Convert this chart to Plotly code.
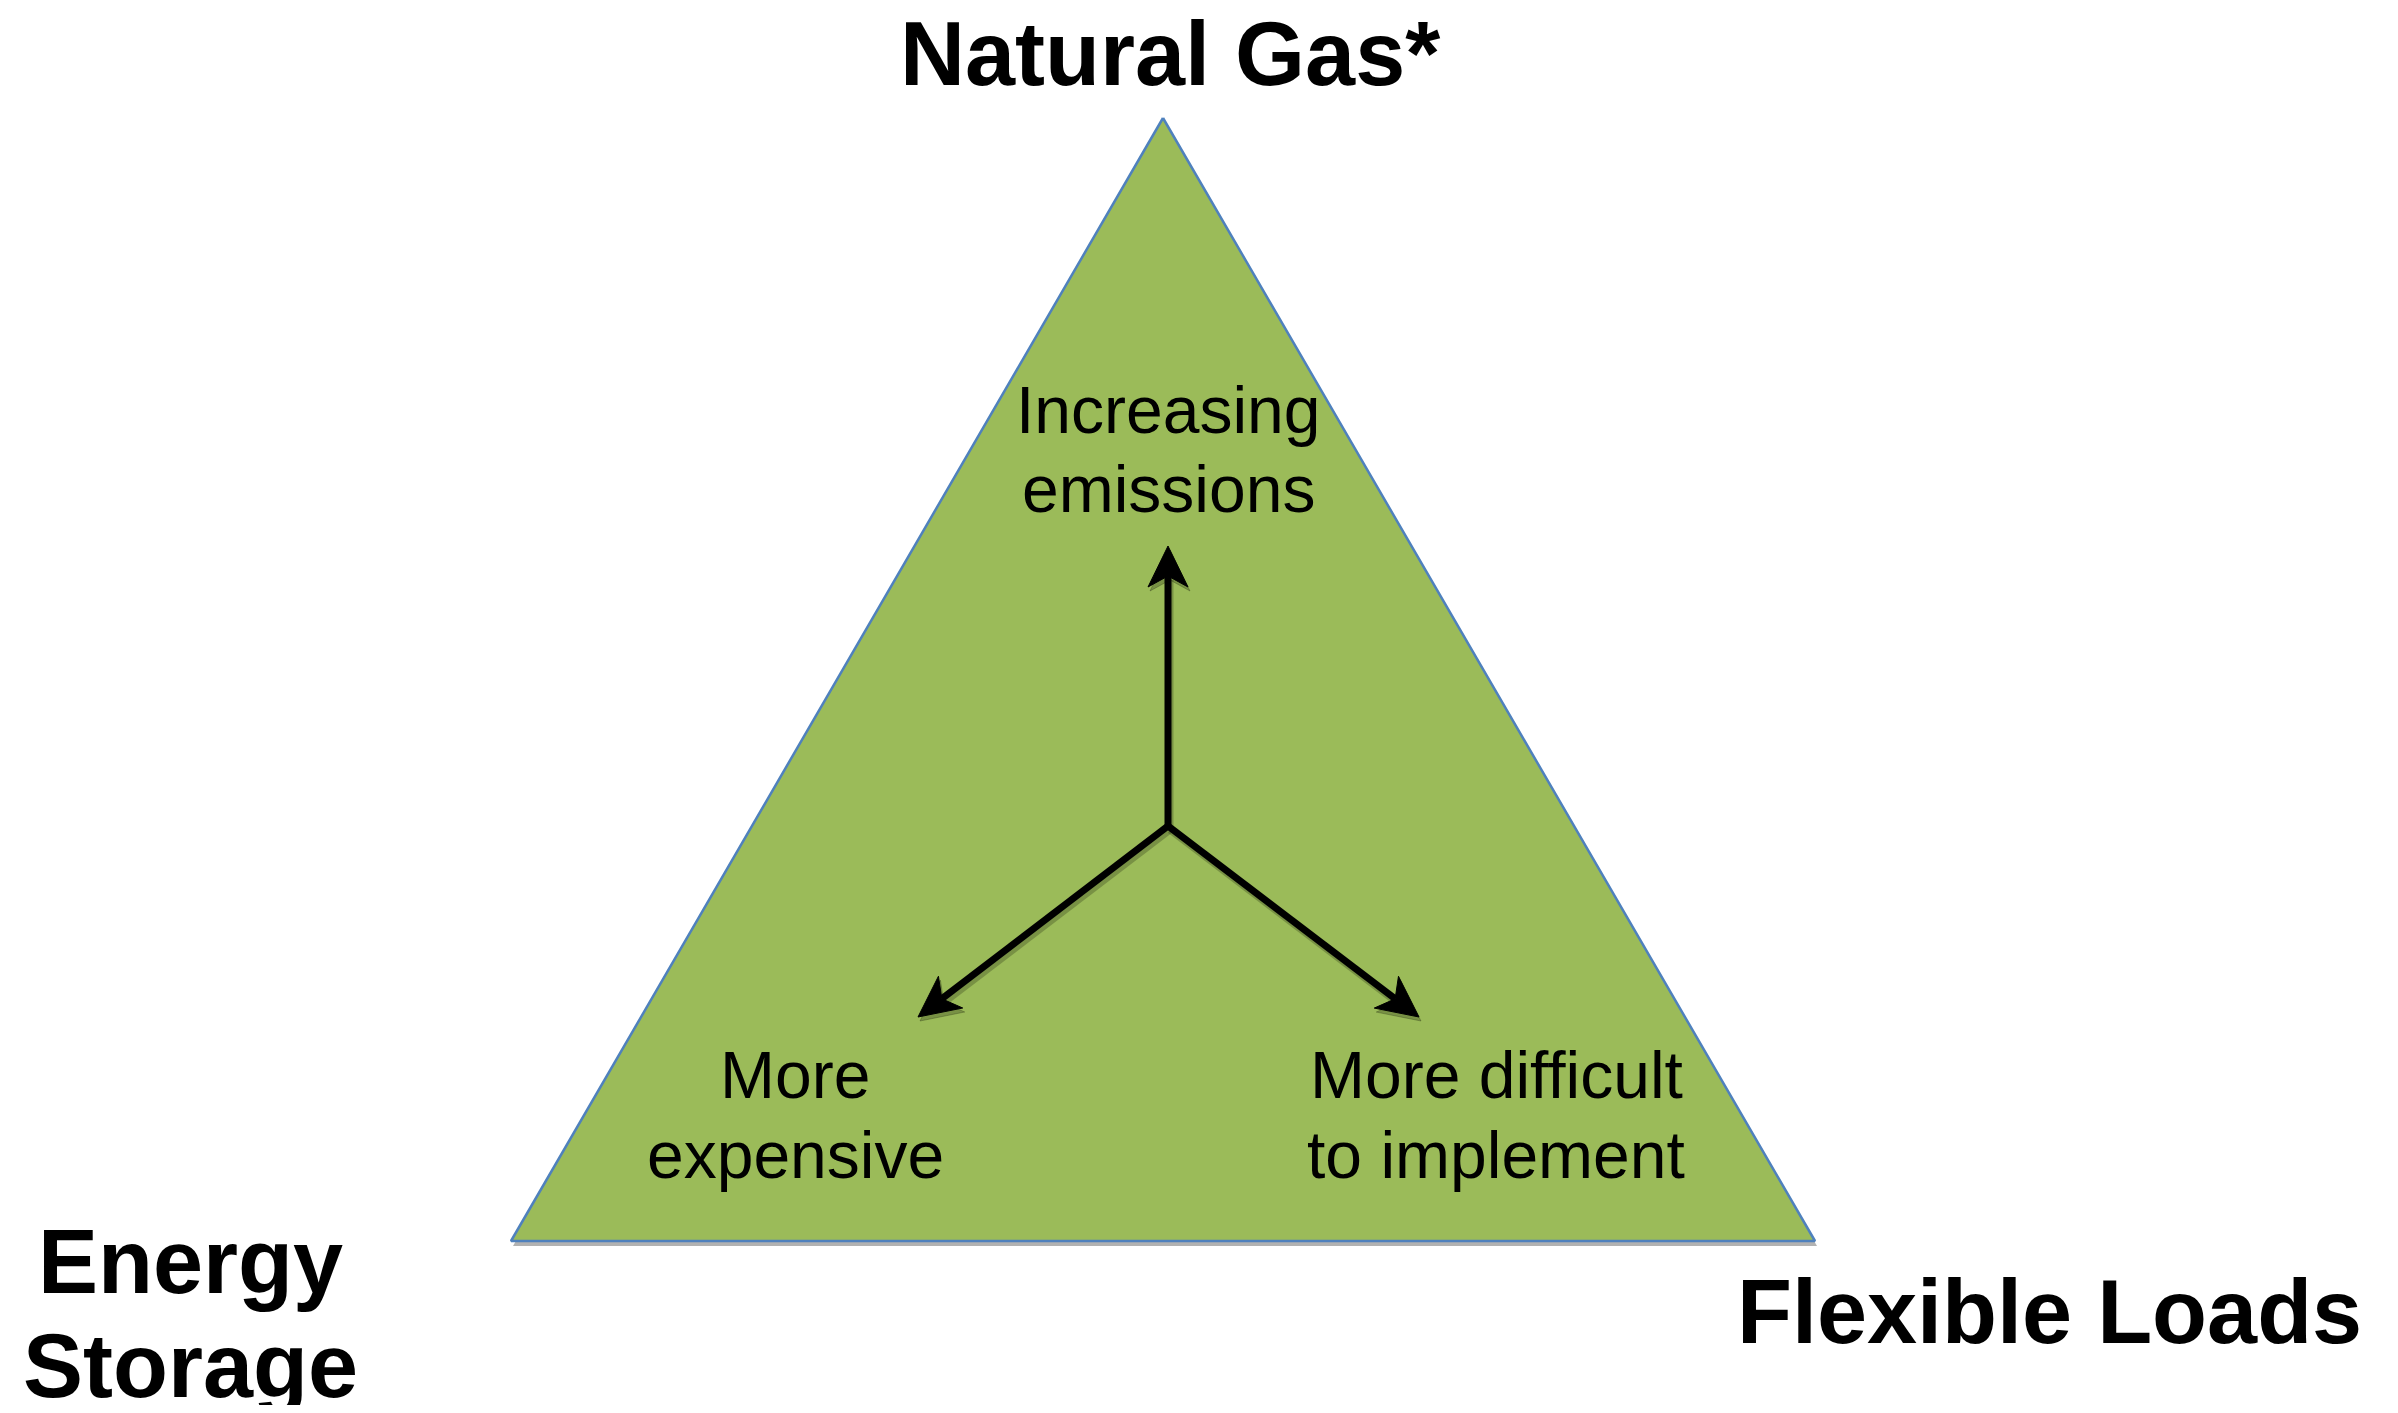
"""Natural gas / energy storage / flexible loads trade-off triangle"""

import math
import plotly.graph_objects as go

W, H = 2398, 1413
PAD = 8  # default body margin of the page

# Triangle corners (pixel space, y measured from top)
tri_x = [1163, 1815, 511, 1163]
tri_y = [118, 1241, 1241, 118]

# Arrows: tail at the common centre, heads at the tips
arrow_tail = (1168, 826)
arrow_head_x = [1168, 918, 1419]
arrow_head_y = [546, 1017, 1017]

# Corner labels
corner_text = ['Natural Gas*', 'Energy', 'Storage', 'Flexible Loads']
corner_x = [1170, 190, 190, 2049]
corner_y = [54, 1262, 1366, 1312]

# Inner labels
inner_text = ['Increasing', 'emissions', 'More', 'expensive', 'More difficult', 'to implement']
inner_x = [1168, 1168, 795, 795, 1496, 1496]
inner_y = [410, 489, 1075, 1155, 1075, 1155]

fig = go.Figure()

# soft shadow under the triangle
fig.add_trace(go.Scatter(
    x=[v + 2 for v in tri_x], y=[v + 5 for v in tri_y],
    mode='lines', fill='toself', fillcolor='rgba(0,0,0,0.3)',
    line=dict(color='rgba(0,0,0,0)', width=0), hoverinfo='skip', showlegend=False,
))
fig.add_trace(go.Scatter(
    x=tri_x, y=tri_y,
    mode='lines', fill='toself', fillcolor='#9BBB59',
    line=dict(color='#4F81BD', width=2.5), hoverinfo='skip', showlegend=False,
))


def add_arrow(tx, ty, hx, hy, color, dx=0, dy=0):
    # stealth-style head: length 41, half width 20, notch 11 back from the barbs
    L, hw, notch = 41, 20, 30
    ux, uy = hx - tx, hy - ty
    n = math.hypot(ux, uy)
    ux, uy = ux / n, uy / n
    px, py = -uy, ux
    bx, by = hx - ux * L, hy - uy * L
    nx, ny = hx - ux * notch, hy - uy * notch
    fig.add_trace(go.Scatter(
        x=[tx + dx, nx + dx], y=[ty + dy, ny + dy], mode='lines',
        line=dict(color=color, width=7), hoverinfo='skip', showlegend=False,
    ))
    fig.add_trace(go.Scatter(
        x=[hx + dx, bx + px * hw + dx, nx + dx, bx - px * hw + dx, hx + dx],
        y=[hy + dy, by + py * hw + dy, ny + dy, by - py * hw + dy, hy + dy],
        mode='lines', fill='toself', fillcolor=color,
        line=dict(color=color, width=1), hoverinfo='skip', showlegend=False,
    ))


for hx, hy in zip(arrow_head_x, arrow_head_y):
    add_arrow(arrow_tail[0], arrow_tail[1], hx, hy, 'rgba(40,50,20,0.3)', dx=2, dy=4)
for hx, hy in zip(arrow_head_x, arrow_head_y):
    add_arrow(arrow_tail[0], arrow_tail[1], hx, hy, 'black')

for t, x, y in zip(corner_text, corner_x, corner_y):
    fig.add_annotation(
        x=x, y=y, xref='x', yref='y', text=t, showarrow=False,
        font=dict(family='Liberation Sans, Arial', size=90, color='black', weight='bold'),
    )

for t, x, y in zip(inner_text, inner_x, inner_y):
    fig.add_annotation(
        x=x, y=y, xref='x', yref='y', text=t, showarrow=False,
        font=dict(family='Liberation Sans, Arial', size=66, color='black'),
    )

fig.update_layout(
    width=W - 2 * PAD, height=H - 2 * PAD,
    margin=dict(l=0, r=0, t=0, b=0),
    plot_bgcolor='white', paper_bgcolor='white',
    xaxis=dict(range=[PAD, W - PAD], visible=False, fixedrange=True),
    yaxis=dict(range=[H - PAD, PAD], visible=False, fixedrange=True),
)

fig.write_html("out.html")
